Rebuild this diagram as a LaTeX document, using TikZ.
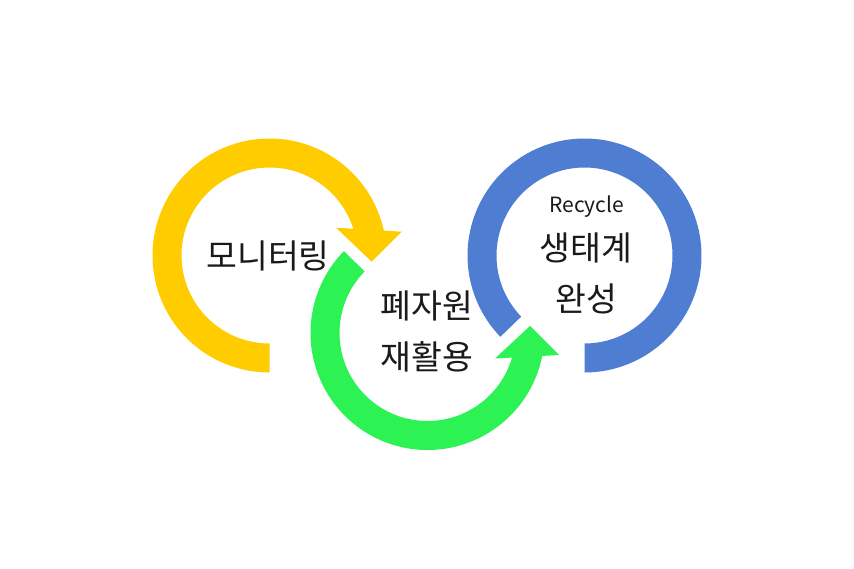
\documentclass[tikz,border=0pt]{standalone}
\usepackage{fontspec}
\setmainfont{Noto Sans CJK KR}
\definecolor{ycol}{HTML}{FFCC00}
\definecolor{gcol}{HTML}{2CF254}
\definecolor{bcol}{HTML}{4E7DD2}
\definecolor{tcol}{HTML}{1A1A1A}
\begin{document}
\begin{tikzpicture}[x=1pt,y=-1pt,
  lbl/.style={text=tcol, inner sep=0pt, align=center, font=\fontsize{33.5}{51}\selectfont},
  smalllbl/.style={text=tcol, inner sep=0pt, font=\fontsize{21}{24}\selectfont}]
\useasboundingbox (0,0) rectangle (854,568);
\fill[white] (0,0) rectangle (854,568);
% yellow circular arrow
\fill[ycol] plot[domain=90:347.7, samples=150] ({269.5+117*cos(\x)},{255.5+117*sin(\x)})
  -- (401.7,231.7) -- (371.7,261.7) -- (336,227.7)
  -- plot[domain=342.3:90, samples=150] ({269.5+88*cos(\x)},{255.5+88*sin(\x)}) -- cycle;
% green circular arrow
\fill[gcol] plot[domain=224.4:11.3, samples=150] ({427.5+117*cos(\x)},{333+117*sin(\x)})
  -- (559,355) -- (530,326) -- (495,358.5)
  -- plot[domain=16.2:224.4, samples=150] ({427.5+88*cos(\x)},{333+88*sin(\x)}) -- cycle;
% blue ring
\fill[bcol] plot[domain=136:450, samples=150] ({584.5+117*cos(\x)},{255.5+117*sin(\x)})
  -- plot[domain=450:136, samples=150] ({584.5+88*cos(\x)},{255.5+88*sin(\x)}) -- cycle;
% texts
\node[lbl] (mon) at (268,256) {모니터링};
\node[lbl] (rec) at (427,331.5) {폐자원\\재활용};
\node[smalllbl] (eng) at (586.7,207) {Recycle};
\node[lbl] (eco) at (586,273) {생태계\\완성};
\end{tikzpicture}
\end{document}
